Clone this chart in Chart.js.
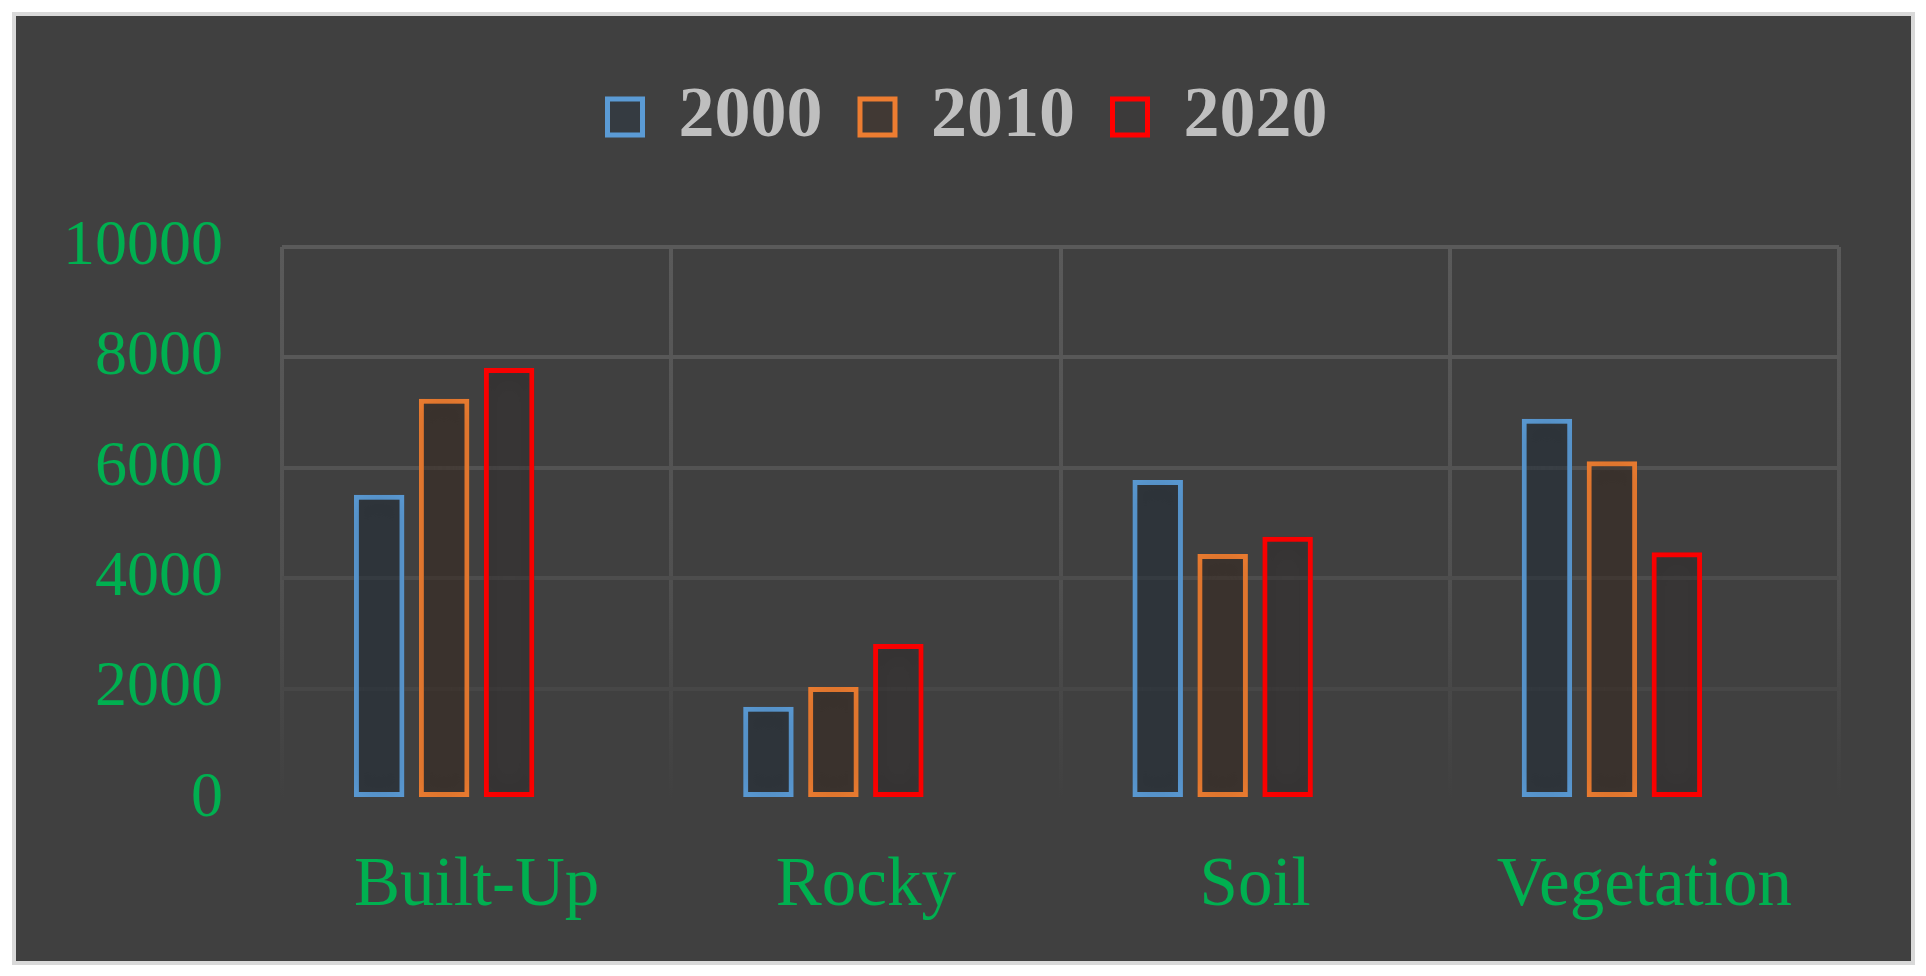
<!DOCTYPE html>
<html>
<head>
<meta charset="utf-8">
<script src="https://cdn.jsdelivr.net/npm/chart.js@4"></script>
<style>
  html, body { margin: 0; padding: 0; background: #ffffff; }
  #frame {
    position: absolute; left: 12px; top: 12px;
    width: 1903px; height: 953px;
    box-sizing: border-box;
    border: 4px solid #d9d9d9;
    background: #404040;
  }
  canvas { display: block; }
</style>
</head>
<body>
<div id="frame"><canvas id="landChart" width="1895" height="945"></canvas></div>
<script>
// Land cover classes and areas per year
const categories = ['Built-Up', 'Rocky', 'Soil', 'Vegetation'];
const years = ['2000', '2010', '2020'];
const values2000 = [5510, 1670, 5780, 6890];
const values2010 = [7250, 2030, 4440, 6120];
const values2020 = [7810, 2810, 4750, 4470];
const emptySeries = [null, null, null, null]; // blank 4th column in the source sheet
const yTicks = [0, 2000, 4000, 6000, 8000, 10000];

const lineColors = ['#5b9bd5', '#ed7d31', '#ff0000'];
const fillColors = ['rgba(25,45,70,0.28)', 'rgba(70,40,20,0.28)', 'rgba(40,30,30,0.15)'];
const green = '#00b050';

// extra space between legend and plot, and nudge legend to the right
const legendSpacer = {
    id: 'legendSpacer',
    beforeInit(chart) {
        const fit = chart.legend.fit;
        chart.legend.fit = function () {
            fit.bind(chart.legend)();
            this.height += 84;
        };
    },
    afterLayout(chart) {
        chart.legend.left += 20;
        chart.legend.right += 20;
    }
};

// soft dark halo around the bars
const barGlow = {
    id: 'barGlow',
    beforeDatasetsDraw(chart) {
        chart.ctx.save();
        chart.ctx.shadowColor = 'rgba(0,0,0,0.5)';
        chart.ctx.shadowBlur = 24;
    },
    afterDatasetsDraw(chart) {
        chart.ctx.restore();
    }
};

function fadeGradient(c) {
    const chart = c.chart;
    const area = chart.chartArea;
    if (!area) return '#595959';
    const g = chart.ctx.createLinearGradient(0, area.top, 0, area.bottom);
    g.addColorStop(0, '#5a5a5a');
    g.addColorStop(0.6, '#505050');
    g.addColorStop(1, '#404040');
    return g;
}

const gridShade = { 10000: '#5a5a5a', 8000: '#585858', 6000: '#535353', 4000: '#4d4d4d', 2000: '#474747', 0: '#404040' };

const seriesValues = [values2000, values2010, values2020];
const datasets = years.map((y, i) => ({
    label: y,
    data: seriesValues[i],
    borderColor: lineColors[i],
    backgroundColor: fillColors[i],
    borderWidth: 5,
    borderSkipped: false
}));
datasets.push({ label: '', data: emptySeries, borderWidth: 0 });

const ctx = document.getElementById('landChart').getContext('2d');
new Chart(ctx, {
    type: 'bar',
    data: { labels: categories, datasets: datasets },
    plugins: [legendSpacer, barGlow],
    options: {
        responsive: false,
        animation: false,
        categoryPercentage: 0.6675,
        barPercentage: 0.778,
        layout: { padding: { left: 40, right: 72, top: 27.5, bottom: 34 } },
        plugins: {
            tooltip: { enabled: false },
            legend: {
                position: 'top',
                labels: {
                    filter: item => item.text !== '',
                    boxWidth: 35,
                    boxHeight: 36,
                    padding: 37.5,
                    color: '#bfbfbf',
                    font: { family: 'Liberation Serif', size: 72, weight: 'bold' }
                }
            }
        },
        scales: {
            x: {
                grid: { offset: true, drawTicks: false, lineWidth: 4, color: fadeGradient },
                border: { display: false },
                ticks: {
                    padding: 46,
                    color: green,
                    font: { family: 'Liberation Serif', size: 69 }
                },
                afterFit(scale) { scale.height = 128; }
            },
            y: {
                min: yTicks[0],
                max: yTicks[yTicks.length - 1],
                afterBuildTicks(scale) { scale.ticks = yTicks.map(v => ({ value: v })); },
                grid: {
                    drawTicks: false,
                    lineWidth: 4,
                    color: c => gridShade[c.tick.value] || '#595959'
                },
                border: { display: false },
                ticks: {
                    padding: 59,
                    color: green,
                    font: { family: 'Liberation Serif', size: 64 },
                    callback: v => String(v)
                },
                afterFit(scale) { scale.width = 226; }
            }
        }
    }
});
</script>
</body>
</html>
